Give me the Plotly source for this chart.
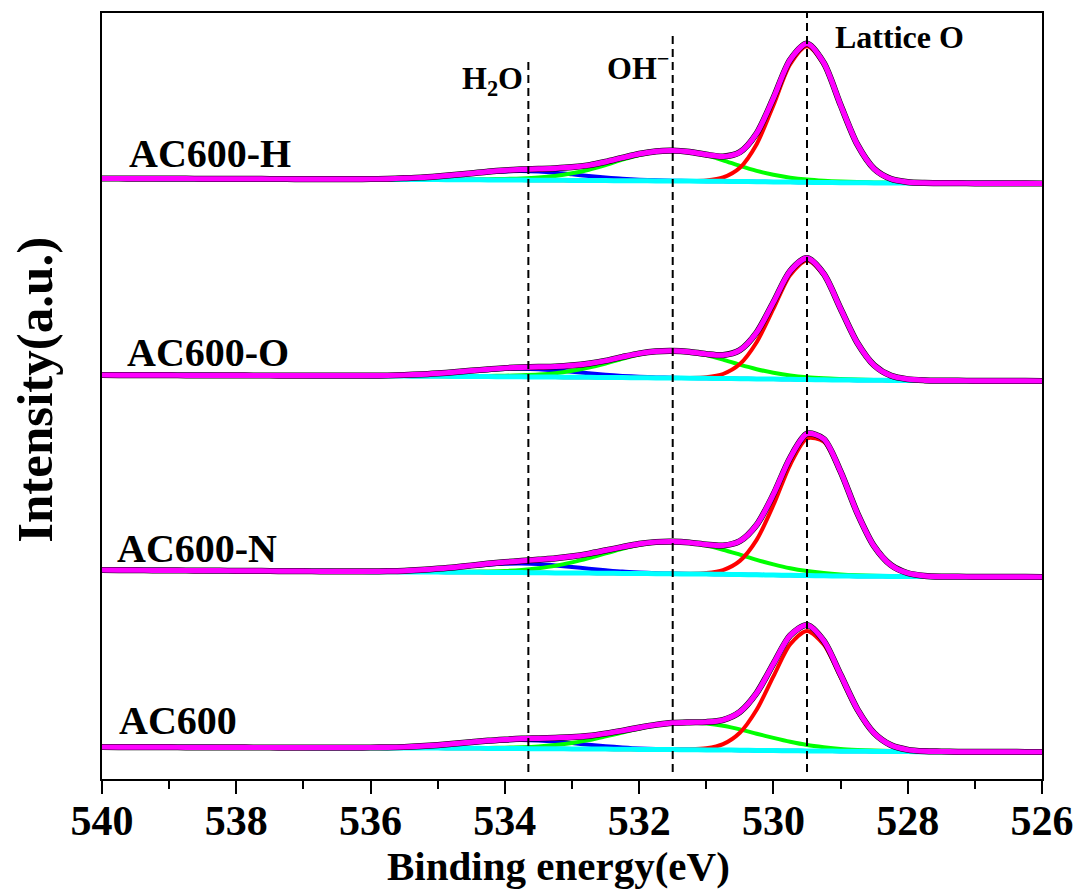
import plotly.graph_objects as go

# ---------------- data ----------------
BE = [540.0, 539.75, 539.5, 539.25, 539.0, 538.75, 538.5, 538.25, 538.0, 537.75,
      537.5, 537.25, 537.0, 536.75, 536.5, 536.25, 536.0, 535.75, 535.5, 535.25,
      535.0, 534.75, 534.5, 534.25, 534.0, 533.75, 533.5, 533.25, 533.0, 532.75,
      532.5, 532.25, 532.0, 531.75, 531.5, 531.25, 531.0, 530.75, 530.5, 530.25,
      530.0, 529.75, 529.5, 529.25, 529.0, 528.75, 528.5, 528.25, 528.0, 527.75,
      527.5, 527.25, 527.0, 526.75, 526.5, 526.25, 526.0]

samples = ["AC600-H", "AC600-O", "AC600-N", "AC600"]

# vertical stacking offset of each spectrum (a.u.)
offsets = [595.5, 398.0, 202.0, 27.0]

# Shirley-type background of each spectrum
bg_H = [5.0, 5.0, 4.9, 4.9, 4.8, 4.8, 4.7, 4.7, 4.6, 4.6,
        4.5, 4.5, 4.4, 4.4, 4.3, 4.3, 4.2, 4.1, 4.1, 4.0,
        3.9, 3.8, 3.7, 3.6, 3.5, 3.4, 3.3, 3.2, 3.1, 3.0,
        2.9, 2.8, 2.7, 2.6, 2.5, 2.4, 2.3, 2.2, 2.0, 1.8,
        1.6, 1.4, 1.2, 1.0, 0.8, 0.7, 0.6, 0.5, 0.4, 0.4,
        0.3, 0.3, 0.2, 0.2, 0.1, 0.1, 0.0]
bg_O = [6.0, 5.9, 5.9, 5.8, 5.8, 5.7, 5.7, 5.6, 5.6, 5.5,
        5.5, 5.4, 5.4, 5.3, 5.3, 5.2, 5.1, 5.0, 4.9, 4.8,
        4.7, 4.6, 4.5, 4.4, 4.3, 4.2, 4.0, 3.9, 3.8, 3.7,
        3.5, 3.4, 3.3, 3.1, 3.0, 2.8, 2.7, 2.5, 2.3, 2.1,
        1.9, 1.7, 1.4, 1.2, 1.0, 0.8, 0.7, 0.6, 0.5, 0.4,
        0.3, 0.3, 0.2, 0.2, 0.1, 0.1, 0.0]
bg_N = [7.0, 6.9, 6.8, 6.7, 6.6, 6.5, 6.4, 6.3, 6.2, 6.1,
        6.0, 5.9, 5.8, 5.7, 5.6, 5.5, 5.3, 5.2, 5.1, 5.0,
        4.9, 4.8, 4.7, 4.6, 4.5, 4.4, 4.3, 4.1, 4.0, 3.9,
        3.8, 3.6, 3.5, 3.3, 3.2, 3.0, 2.9, 2.7, 2.5, 2.2,
        2.0, 1.7, 1.4, 1.2, 1.0, 0.8, 0.7, 0.6, 0.5, 0.4,
        0.3, 0.3, 0.2, 0.2, 0.1, 0.1, 0.0]
bg_P = [5.0, 4.9, 4.9, 4.8, 4.8, 4.7, 4.7, 4.6, 4.6, 4.5,
        4.5, 4.4, 4.4, 4.3, 4.3, 4.2, 4.2, 4.1, 4.0, 4.0,
        3.9, 3.8, 3.7, 3.6, 3.5, 3.4, 3.3, 3.2, 3.1, 3.0,
        2.9, 2.8, 2.6, 2.5, 2.4, 2.3, 2.1, 2.0, 1.8, 1.6,
        1.4, 1.3, 1.1, 1.0, 0.8, 0.7, 0.6, 0.5, 0.4, 0.3,
        0.3, 0.2, 0.2, 0.1, 0.1, 0.0, 0.0]

# fitted components (intensity above background)
water_H = [0]*13 + [0, 0, 0.1, 0.3, 0.6, 1.1, 1.9, 3.1, 4.5, 6.1, 7.6, 8.6, 9.0, 8.6, 7.6, 6.1,
                    4.5, 3.1, 1.9, 1.1, 0.6, 0.3, 0.1, 0, 0] + [0]*19
water_O = [0]*13 + [0, 0, 0.1, 0.2, 0.5, 1.0, 1.7, 2.7, 4.0, 5.4, 6.7, 7.7, 8.0, 7.7, 6.7, 5.4,
                    4.0, 2.7, 1.7, 1.0, 0.5, 0.2, 0.1, 0, 0] + [0]*19
water_N = [0]*13 + [0, 0.1, 0.1, 0.3, 0.6, 1.1, 2.0, 3.2, 4.6, 6.2, 7.7, 8.7, 9.0, 8.6, 7.5, 6.0,
                    4.4, 3.0, 1.8, 1.0, 0.5, 0.2, 0.1, 0, 0] + [0]*19
water_P = [0]*13 + [0, 0, 0.1, 0.3, 0.5, 1.0, 1.8, 2.9, 4.3, 5.8, 7.2, 8.1, 8.5, 8.1, 7.2, 5.8,
                    4.3, 2.9, 1.8, 1.0, 0.5, 0.3, 0.1, 0, 0] + [0]*19

hydroxyl_H = [0]*18 + [0.1, 0.1, 0.2, 0.3, 0.4, 0.7, 1.1, 1.7, 2.7, 4.4, 7.1, 10.8, 15.6, 21.0, 25.8,
                       29.0, 30.0, 29.0, 25.8, 21.0, 15.6, 10.8, 7.1, 4.4, 2.7, 1.7, 1.1, 0.7, 0.4,
                       0.3, 0.2, 0.1, 0.1] + [0]*6
hydroxyl_O = [0]*18 + [0.1, 0.1, 0.2, 0.2, 0.4, 0.6, 1.0, 1.5, 2.4, 3.9, 6.4, 9.7, 14.0, 18.9, 23.2,
                       26.1, 27.0, 26.1, 23.2, 18.9, 14.0, 9.7, 6.4, 3.9, 2.4, 1.5, 1.0, 0.6, 0.4,
                       0.2, 0.2, 0.1, 0.1] + [0]*6
hydroxyl_N = [0]*18 + [0.0, 0.1, 0.2, 0.3, 0.6, 1.0, 1.6, 2.7, 4.5, 7.0, 10.6, 15.0, 19.8, 24.6, 28.6,
                       31.2, 32.0, 31.2, 28.6, 24.6, 19.8, 15.0, 10.6, 7.0, 4.5, 2.7, 1.6, 1.0, 0.6,
                       0.3, 0.2, 0.1, 0.0] + [0]*6
hydroxyl_P = [0]*19 + [0.0, 0.1, 0.2, 0.3, 0.5, 0.8, 1.4, 2.3, 3.8, 5.9, 8.9, 12.7, 16.7, 20.8, 24.2,
                       26.3, 27.0, 26.3, 24.2, 20.8, 16.7, 12.7, 8.9, 5.9, 3.8, 2.3, 1.4, 0.8, 0.5,
                       0.3, 0.2, 0.1, 0.0] + [0]*5

lattice_H = [0]*35 + [0.1, 0.8, 3.8, 13.7, 37.5, 76.7, 117.9, 136.0, 117.9, 76.7, 37.5, 13.7, 3.8,
                      0.8, 0.1] + [0]*7
lattice_O = [0]*35 + [0.2, 1.1, 4.5, 14.6, 36.7, 70.4, 104.4, 119.0, 104.4, 70.4, 36.7, 14.6, 4.5,
                      1.1, 0.2] + [0]*7
lattice_N = [0]*35 + [0.2, 1.0, 4.2, 13.6, 34.9, 70.0, 110.6, 137.3, 134.1, 102.9, 62.0, 29.4, 11.0,
                      3.2, 0.7, 0.1] + [0]*6
lattice_P = [0]*34 + [0.1, 0.3, 1.6, 5.9, 17.5, 40.7, 74.2, 106.4, 120.0, 106.4, 74.2, 40.7, 17.5,
                      5.9, 1.6, 0.3, 0.1] + [0]*6

backgrounds = [bg_H, bg_O, bg_N, bg_P]
waters = [water_H, water_O, water_N, water_P]
hydroxyls = [hydroxyl_H, hydroxyl_O, hydroxyl_N, hydroxyl_P]
lattices = [lattice_H, lattice_O, lattice_N, lattice_P]

peak_names = ["H<sub>2</sub>O", "OH<sup>\u2212</sup>", "Lattice O"]
peak_positions = [533.65, 531.5, 529.5]

xticks = [540, 538, 536, 534, 532, 530, 528, 526]

# ---------------- figure ----------------
FONT = "Liberation Serif, Times New Roman, serif"
fig = go.Figure()

def line(x, y, color, width):
    return go.Scatter(x=x, y=y, mode="lines", line=dict(color=color, width=width, shape="spline", smoothing=0.8),
                      hoverinfo="skip", showlegend=False)

for k in range(len(samples)):
    off = offsets[k]
    bg = backgrounds[k]
    base = [off + b for b in bg]
    blue = [off + b + w for b, w in zip(bg, waters[k])]
    green = [off + b + h for b, h in zip(bg, hydroxyls[k])]
    red = [off + b + l for b, l in zip(bg, lattices[k])]
    env = [off + b + w + h + l for b, w, h, l in zip(bg, waters[k], hydroxyls[k], lattices[k])]
    fig.add_trace(line(BE, blue, "#0000FF", 4))
    fig.add_trace(line(BE, green, "#00FF00", 4))
    fig.add_trace(line(BE, red, "#FF0000", 4))
    fig.add_trace(line(BE, base, "#00FFFF", 5))
    fig.add_trace(line(BE, env, "#000000", 6.2))
    fig.add_trace(line(BE, env, "#FF00FF", 5.2))

# dashed assignment lines
line_tops = [717, 744, 766]
for xp, top in zip(peak_positions, line_tops):
    fig.add_shape(type="line", xref="x", yref="y", x0=xp, x1=xp, y0=7, y1=top,
                  line=dict(color="black", width=2, dash="8px,5px"))

# sample labels
label_pos = [(539.63, 626), (539.66, 427), (539.81, 231), (539.78, 59)]
for name, (lx, ly) in zip(samples, label_pos):
    fig.add_annotation(x=lx, y=ly, xref="x", yref="y", text=name, showarrow=False,
                       xanchor="left", yanchor="middle",
                       font=dict(family=FONT, size=40, color="black", weight="bold"))

# peak labels
peak_label_pos = [(534.67, 699), (532.51, 713), (529.11, 742)]
for name, (lx, ly) in zip(peak_names, peak_label_pos):
    fig.add_annotation(x=lx, y=ly, xref="x", yref="y", text=name, showarrow=False,
                       xanchor="left", yanchor="middle",
                       font=dict(family=FONT, size=32, color="black", weight="bold"))

# axis titles
fig.add_annotation(x=0.486, y=-0.113, xref="paper", yref="paper", text="Binding energy(eV)",
                   showarrow=False, xanchor="center", yanchor="middle",
                   font=dict(family=FONT, size=41, color="black", weight="bold"))
fig.add_annotation(x=-0.0713, y=0.508, xref="paper", yref="paper", text="Intensity(a.u.)",
                   showarrow=False, xanchor="center", yanchor="middle", textangle=-90,
                   font=dict(family=FONT, size=51, color="black", weight="bold"))

fig.update_layout(
    width=1078, height=892,
    margin=dict(l=102, r=36, t=13, b=113),
    paper_bgcolor="white", plot_bgcolor="white",
    showlegend=False,
    xaxis=dict(
        range=[540, 526], tickvals=xticks, ticktext=[str(t) for t in xticks],
        ticks="outside", ticklen=13, tickwidth=2, tickcolor="black",
        minor=dict(tickvals=[539, 537, 535, 533, 531, 529, 527], ticks="outside",
                   ticklen=8, tickwidth=2, tickcolor="black", showgrid=False),
        showline=True, linewidth=2, linecolor="black", mirror=True,
        showgrid=False, zeroline=False, automargin=False,
        ticklabelstandoff=-9,
        tickfont=dict(family=FONT, size=42, color="black", weight="bold"),
    ),
    yaxis=dict(
        range=[0, 766], showticklabels=False, ticks="",
        showline=True, linewidth=2, linecolor="black", mirror=True,
        showgrid=False, zeroline=False, automargin=False,
    ),
)

fig.write_html("out.html")
